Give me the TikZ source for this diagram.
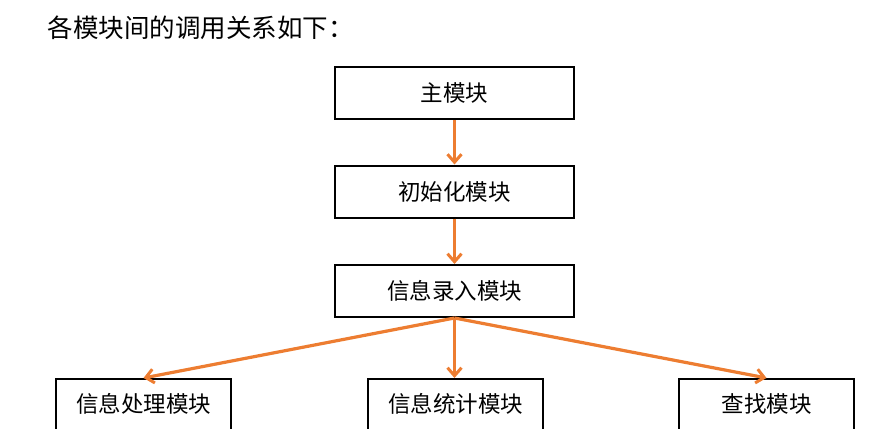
\documentclass[tikz,border=0pt]{standalone}
\usepackage{fontspec}
\newfontfamily\cjk{Noto Sans CJK SC}
\usetikzlibrary{arrows.meta}
\definecolor{arroworange}{HTML}{ED7D31}
\begin{document}
\begin{tikzpicture}[x=1pt,y=-1pt,
  modbox/.style={draw=black,line width=2pt,minimum width=239pt,minimum height=52pt,inner sep=0pt,font=\cjk\fontsize{22.5}{26}\selectfont},
  lowbox/.style={draw=black,line width=2pt,minimum width=175pt,minimum height=90pt,inner sep=0pt},
  lowtext/.style={font=\cjk\fontsize{22.5}{26}\selectfont},
  callarrow/.style={draw=arroworange,line width=3.2pt,-{Straight Barb[length=8pt,width=14pt,line width=3pt]}}]
\useasboundingbox (0,0) rectangle (877,428);
\clip (0,0) rectangle (877,428);
\node[anchor=west,font=\cjk\fontsize{25.5}{30}\selectfont] (title) at (44,28) {各模块间的调用关系如下：};
\node[modbox] (main) at (454.5,93) {主模块};
\node[modbox] (init) at (454.5,191.5) {初始化模块};
\node[modbox] (input) at (454.5,291) {信息录入模块};
\node[lowbox] (proc) at (143.5,424) {};
\node[lowbox] (stat) at (455.5,424) {};
\node[lowbox] (find) at (766.5,424) {};
\node[lowtext] (proct) at (143.5,404) {信息处理模块};
\node[lowtext] (statt) at (455.5,404) {信息统计模块};
\node[lowtext] (findt) at (766.5,404) {查找模块};
\draw[callarrow] (main.south) -- (init.north);
\draw[callarrow] (init.south) -- (input.north);
\draw[callarrow] (input.south) -- (proc.north);
\draw[callarrow] (input.south) -- (stat.north -| input.south);
\draw[callarrow] (input.south) -- (find.north);
\end{tikzpicture}
\end{document}
